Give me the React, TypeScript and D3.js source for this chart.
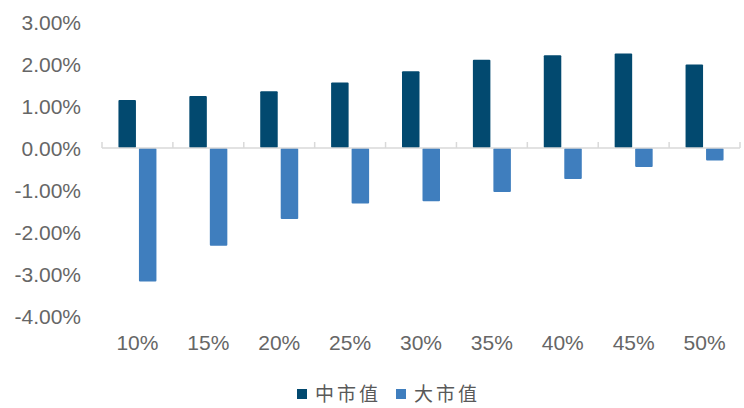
import React from "react";
import * as d3 from "d3";

const categories = ["10%", "15%", "20%", "25%", "30%", "35%", "40%", "45%", "50%"];
const midCap = [1.14, 1.24, 1.35, 1.56, 1.83, 2.1, 2.21, 2.25, 1.99];
const largeCap = [-3.18, -2.33, -1.69, -1.32, -1.27, -1.05, -0.74, -0.45, -0.3];
const seriesNames = ["中市值", "大市值"];
const yTicks = [3, 2, 1, 0, -1, -2, -3, -4];

const W = 744;
const H = 408;
const colors = ["#02496F", "#3F7EBE"];
const textColor = "#666666";

export default function App() {
  const x = d3.scaleBand<string>().domain(categories).range([102, 740]).padding(0);
  const y = d3.scaleLinear().domain([-4, 3]).range([316, 22]);
  const bw = 17.5;
  const gap = 1.5;
  const fmt = (v: number) => v.toFixed(2) + "%";
  const y0 = y(0);

  return (
    <svg
      width={W}
      height={H}
      style={{ position: "absolute", left: 0, top: 0, background: "#fff" }}
      fontFamily="'Liberation Sans', Arial, sans-serif"
    >
      {yTicks.map((t) => (
        <text
          key={t}
          x={81}
          y={y(t)}
          dy="0.36em"
          textAnchor="end"
          fontSize={21}
          fill={textColor}
        >
          {fmt(t)}
        </text>
      ))}
      {categories.map((c, i) => {
        const cx = (x(c) as number) + x.bandwidth() / 2;
        const v1 = midCap[i];
        const v2 = largeCap[i];
        return (
          <g key={c}>
            <rect
              x={cx - gap - bw}
              y={Math.min(y(v1), y0)}
              width={bw}
              height={Math.abs(y(v1) - y0)}
              fill={colors[0]}
              rx={1}
            />
            <rect
              x={cx + gap}
              y={Math.min(y(v2), y0)}
              width={bw}
              height={Math.abs(y(v2) - y0)}
              fill={colors[1]}
              rx={1}
            />
            <text
              x={cx}
              y={350}
              textAnchor="middle"
              fontSize={21}
              fill={textColor}
            >
              {c}
            </text>
          </g>
        );
      })}
      <line x1={102} x2={740} y1={y0} y2={y0} stroke="#d9d9d9" strokeWidth={1.5} />
      {categories.concat(["end"]).map((c, i) => {
        const tx = 102 + i * x.bandwidth();
        return (
          <line key={"t" + i} x1={tx} x2={tx} y1={y0 - 6} y2={y0} stroke="#d9d9d9" strokeWidth={1.5} />
        );
      })}
      <g>
        <rect x={297} y={389} width={10} height={10} fill={colors[0]} />
        <text x={315} y={401} fontSize={19} fill="#595959" letterSpacing={3} fontFamily="'Noto Sans CJK SC', sans-serif">
          {seriesNames[0]}
        </text>
        <rect x={396} y={389} width={10} height={10} fill={colors[1]} />
        <text x={414} y={401} fontSize={19} fill="#595959" letterSpacing={3} fontFamily="'Noto Sans CJK SC', sans-serif">
          {seriesNames[1]}
        </text>
      </g>
    </svg>
  );
}
